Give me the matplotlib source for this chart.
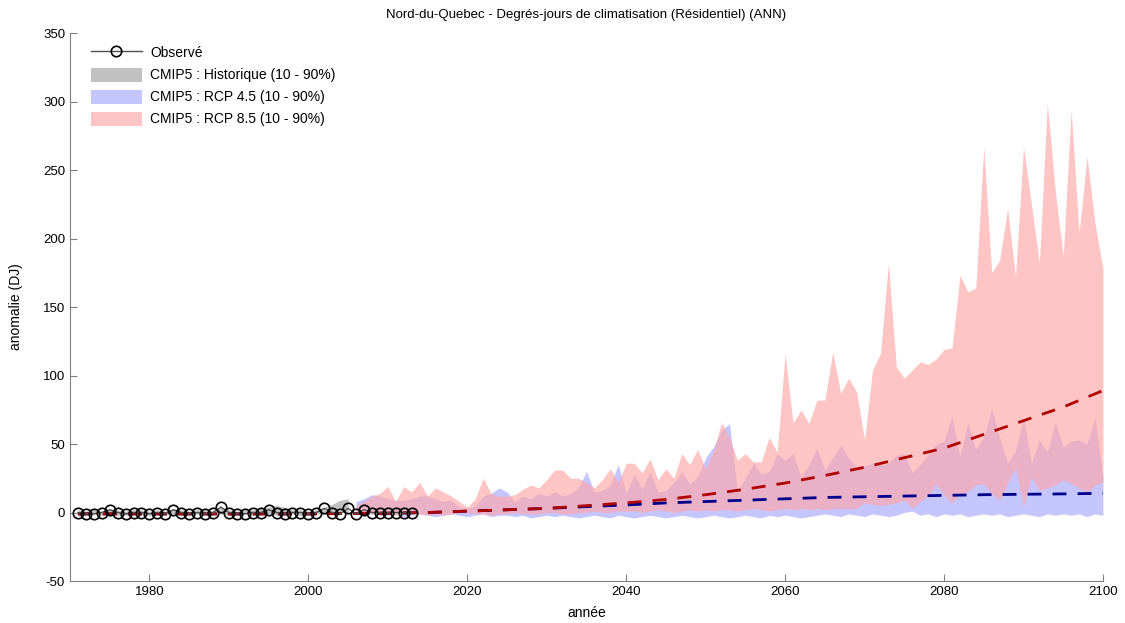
import numpy as np
import matplotlib
matplotlib.use("Agg")
import matplotlib.pyplot as plt

plt.rcParams['font.family'] = ['Liberation Sans', 'DejaVu Sans']
plt.rcParams['axes.unicode_minus'] = False

# observed anomalies 1971-2013
obs_years = np.arange(1971, 2014)
obs_vals = [0, -1, -1, 0, 2, 0, -1, 0, 0, -1,
            0, -1, 2, 0, -1, 0, -1, 0, 4, 0,
            -1, -1, 0, 0, 2, 0, -1, 0, 0, -1,
            0, 3, 0, -1, 3, -1, 2, 0, 0, 0,
            0, 0, 0]

# historical envelope 1971-2005
hist_years = np.arange(1971, 2006)
hist_hi = [2, 1, 2, 1, 3, 2, 1, 2, 2, 1,
           2, 1, 3, 2, 1, 2, 2, 1, 4, 2,
           1, 2, 2, 3, 4, 5, 4, 2, 2, 1,
           2, 4, 6, 9, 10]
hist_lo = [-2, -2, -1, -2, -1, -2, -2, -1, -2, -2,
           -1, -2, -1, -2, -2, -1, -2, -2, -1, -2,
           -2, -1, -2, -2, -1, -2, -2, -1, -2, -2,
           -1, -1, -1, 0, 0]

# scenario envelopes 2006-2100
scen_years = np.arange(2006, 2101)
rcp85_hi = [5, 8, 12, 14, 19, 8, 19, 15, 22, 12,
            18, 15, 12, 8, 4, 10, 25, 14, 12, 12,
            13, 17, 20, 18, 24, 31, 31, 25, 25, 22,
            18, 24, 32, 22, 36, 36, 29, 39, 24, 32,
            25, 43, 35, 46, 32, 45, 66, 55, 38, 43,
            37, 37, 55, 44, 116, 65, 75, 65, 82, 82,
            117, 87, 98, 88, 53, 104, 116, 182, 106, 98,
            104, 110, 108, 112, 119, 120, 173, 161, 164, 267,
            175, 184, 222, 172, 267, 225, 182, 299, 235, 187,
            294, 204, 260, 211, 178]
rcp85_lo = [0, -1, -1, -2, -1, -2, -1, 0, -1, -2,
            -1, -2, -1, 0, 0, -1, -1, -2, -1, -1,
            0, -1, -1, -1, 0, 0, -1, -1, 0, 0,
            1, 0, 0, 1, 1, 1, 0, 1, 2, 1,
            0, 1, 2, 1, 2, 1, 2, 2, 1, 2,
            3, 2, 1, 2, 3, 2, 3, 2, 3, 2,
            3, 3, 3, 3, 7, 6, 5, 6, 7, 9,
            3, 8, 12, 21, 13, 7, 14, 15, 20, 21,
            14, 9, 21, 33, 4, 26, 16, 18, 20, 24,
            21, 18, 15, 20, 22]
rcp45_hi = [8, 10, 13, 12, 10, 9, 9, 10, 12, 12,
            10, 8, 9, 4, 3, 5, 12, 14, 18, 15,
            8, 12, 10, 14, 12, 15, 12, 14, 18, 30,
            15, 16, 20, 35, 14, 28, 17, 30, 15, 16,
            22, 30, 21, 26, 40, 48, 60, 65, 16, 25,
            36, 28, 30, 43, 38, 43, 26, 35, 47, 31,
            40, 49, 40, 33, 34, 36, 35, 36, 42, 43,
            29, 35, 42, 50, 52, 70, 41, 66, 46, 55,
            76, 55, 36, 45, 69, 36, 53, 44, 66, 48,
            52, 53, 50, 70, 26]
rcp45_lo = [-1, -2, -1, -2, -2, -1, -3, -2, -1, -2,
            -3, -2, -1, -2, -3, -2, -1, -3, -2, -2,
            -3, -2, -4, -3, -2, -3, -2, -3, -4, -3,
            -2, -3, -4, -2, -3, -4, -3, -2, -3, -4,
            -3, -2, -3, -4, -3, -2, -3, -4, -3, -2,
            -3, -4, -2, -3, -2, -3, -4, -3, -2, -1,
            -2, -3, -1, -2, -3, -1, -2, -3, -2, 0,
            1, -2, -1, -3, -1, -2, -1, -3, -2, -1,
            -2, -1, -3, -2, -1, -2, -3, -1, -2, -1,
            -2, -1, -3, -1, -2]

# smoothed ensemble medians
trend_years = [1971, 1980, 1990, 2000, 2010, 2015, 2020, 2025, 2030, 2035, 2040, 2045,
               2050, 2055, 2060, 2065, 2070, 2075, 2080, 2085, 2090, 2095, 2100]
rcp85_mean = [-1, -1, -1, -1, -0.5, 0, 1, 2, 3, 5, 7, 9.5,
              13, 17, 21.5, 27, 33, 40, 47, 57, 67, 77, 89]
rcp45_mean = [-1, -1, -1, -1, -0.5, 0, 1, 2, 3, 4.3, 5.5, 7,
              8, 9, 10, 11, 11.5, 12, 12.5, 13, 13.3, 13.6, 14]

fig = plt.figure(figsize=(11.25, 6.23), dpi=100)
ax = fig.add_axes([0.0622, 0.0674, 0.9182, 0.8796])

hh = ax.fill_between(hist_years, hist_lo, hist_hi, color='#a0a0a0', alpha=0.65, lw=0)
hb = ax.fill_between(scen_years, rcp45_lo, rcp45_hi, color='#a6a6ff', alpha=0.65, lw=0)
hr = ax.fill_between(scen_years, rcp85_lo, rcp85_hi, color='#ffa6a6', alpha=0.65, lw=0)

ax.plot(trend_years, rcp45_mean, color='#00008b', lw=2, dashes=(5, 4))
ax.plot(trend_years, rcp85_mean, color='#b00000', lw=2, dashes=(5, 4))

ho, = ax.plot(obs_years, obs_vals, color='#505050', lw=1, marker='o', ms=7.5,
              mfc='none', mec='black', mew=1.2)

ax.set_xlim(1970, 2100)
ax.set_ylim(-50, 350)
ax.set_xticks(range(1980, 2101, 20))
ax.set_yticks(range(-50, 351, 50))
ax.tick_params(direction='in', labelsize=9.5, length=5, color='#808080')
for s in ['top', 'right']:
    ax.spines[s].set_visible(False)
for s in ['left', 'bottom']:
    ax.spines[s].set_color('#808080')

ax.set_title("Nord-du-Quebec - Degrés-jours de climatisation (Résidentiel) (ANN)", fontsize=9.5, pad=11)
ax.set_xlabel("année", fontsize=10, labelpad=6)
ax.set_ylabel("anomalie (DJ)", fontsize=10, labelpad=14)

ax.legend([ho, hh, hb, hr],
          ["Observé", "CMIP5 : Historique (10 - 90%)", "CMIP5 : RCP 4.5 (10 - 90%)",
           "CMIP5 : RCP 8.5 (10 - 90%)"],
          loc='upper left', bbox_to_anchor=(0.008, 1.0), frameon=False, fontsize=10,
          handlelength=3.7, handleheight=1.2, labelspacing=0.52, handletextpad=0.6)

fig.savefig("out.png", dpi=100)
